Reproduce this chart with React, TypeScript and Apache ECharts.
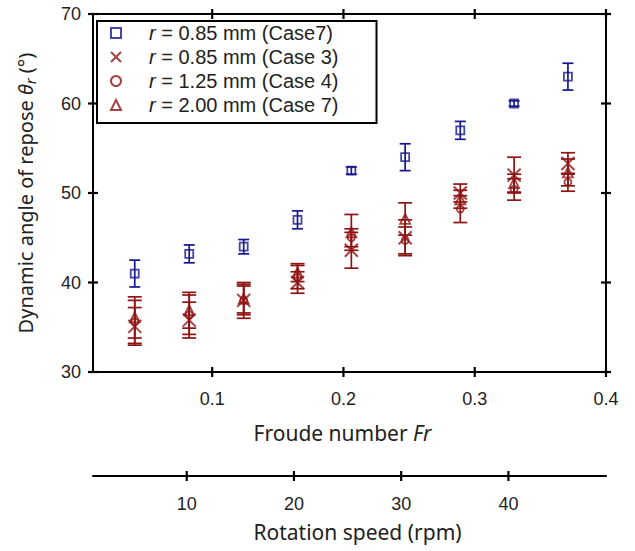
import React, { useEffect, useRef } from 'react';
import * as echarts from 'echarts';

// Froude numbers of the measurement columns
const froude = [0.041, 0.0825, 0.124, 0.165, 0.206, 0.247, 0.289, 0.33, 0.371];

// r = 0.85 mm (Case7)
const smallCase7 = [41.0, 43.2, 44.0, 47.0, 52.5, 54.0, 57.0, 60.0, 63.0];
const smallCase7Err = [1.5, 1.0, 0.8, 1.0, 0.4, 1.5, 1.0, 0.3, 1.5];
// r = 0.85 mm (Case 3)
const case3 = [35.1, 35.8, 38.0, 40.0, 43.6, 45.0, 50.0, 52.0, 53.3];
const case3Err = [2.1, 2.0, 2.0, 1.2, 2.0, 2.0, 1.0, 2.0, 1.2];
// r = 1.25 mm (Case 4)
const case4 = [35.6, 36.4, 38.0, 40.6, 45.0, 44.7, 48.2, 50.4, 51.2];
const case4Err = [2.4, 2.2, 1.6, 1.3, 1.0, 1.5, 1.5, 1.2, 1.0];
// r = 2.00 mm (Case 7)
const largeCase7 = [36.1, 36.9, 38.2, 41.1, 45.6, 47.1, 49.3, 51.1, 52.3];
const largeCase7Err = [2.3, 2.0, 1.6, 1.0, 2.0, 1.8, 1.0, 1.0, 1.5];

const froudeRange = [0.0092, 0.4];
const angleRange = [30, 70];
const rpmRange = [1.26, 49.1];
const froudeTicks = [0.1, 0.2, 0.3, 0.4];
const angleTicks = [30, 40, 50, 60, 70];
const rpmTicks = [10, 20, 30, 40];
const seriesNames = [
  'r = 0.85 mm (Case7)',
  'r = 0.85 mm (Case 3)',
  'r = 1.25 mm (Case 4)',
  'r = 2.00 mm (Case 7)',
];

const BLUE = '#16168e';
const RED = '#8e1414';
const AX = '#000';
const NUM_FONT = '"Liberation Sans", Arial, sans-serif';
const NAME_FONT = '"Noto Sans", "Open Sans", sans-serif';
const RPM_OFFSET = 104;
const TICK = 5;

function errorBars(name: string, values: number[], errs: number[], color: string, capW: number) {
  return {
    type: 'custom',
    name,
    silent: true,
    z: 2,
    data: froude.map((f, i) => [f, values[i] - errs[i], values[i] + errs[i]]),
    encode: { x: 0, y: [1, 2] },
    renderItem: (params: any, api: any) => {
      const lo = api.coord([api.value(0), api.value(1)]);
      const hi = api.coord([api.value(0), api.value(2)]);
      const h = capW / 2;
      const style = { stroke: color, lineWidth: 1.7 };
      return {
        type: 'group',
        children: [
          { type: 'line', shape: { x1: lo[0], y1: lo[1], x2: hi[0], y2: hi[1] }, style },
          { type: 'line', shape: { x1: lo[0] - h, y1: lo[1], x2: lo[0] + h, y2: lo[1] }, style },
          { type: 'line', shape: { x1: hi[0] - h, y1: hi[1], x2: hi[0] + h, y2: hi[1] }, style },
        ],
      };
    },
  };
}

// crossing tick marks: a short line through each tick value on an edge
function tickSeries(name: string, data: number[][], dx: number, dy: number, extra: any = {}) {
  return {
    type: 'custom',
    name,
    silent: true,
    z: 4,
    data,
    encode: { x: 0, y: 1 },
    renderItem: (params: any, api: any) => {
      const p = api.coord([api.value(0), api.value(1)]);
      const oy = extra.oy || 0;
      return {
        type: 'line',
        shape: { x1: p[0] - dx, y1: p[1] + oy - dy, x2: p[0] + dx, y2: p[1] + oy + dy },
        style: { stroke: AX, lineWidth: 2.2 },
      };
    },
    ...(extra.axes || {}),
  };
}

function scatter(name: string, values: number[], color: string, symbol: string, size: number, bw = 1.8) {
  return {
    type: 'scatter',
    name,
    z: 3,
    symbol,
    symbolSize: size,
    data: froude.map((f, i) => [f, values[i]]),
    itemStyle: { color: 'rgba(255,255,255,0)', borderColor: color, borderWidth: bw },
  };
}

const axisLine = () => ({ show: true, onZero: false, lineStyle: { color: AX, width: 2 } });

export default function App() {
  const ref = useRef<HTMLDivElement>(null);
  useEffect(() => {
    if (!ref.current) return;
    const chart = echarts.init(ref.current, null, { renderer: 'svg' });
    const nameStyle = (size: number, padding: number[]) => ({
      fontFamily: NAME_FONT,
      fontSize: size,
      color: '#222',
      padding,
      rich: {
        i: { fontFamily: NAME_FONT, fontSize: size, fontStyle: 'italic', color: '#222' },
        s: { fontFamily: NAME_FONT, fontSize: 15, fontStyle: 'italic', color: '#222', padding: [8, 0, 0, 0] },
      },
    });
    chart.setOption({
      animation: false,
      backgroundColor: '#fff',
      grid: { left: 93, right: 29, top: 14, bottom: 179, containLabel: false },
      legend: {
        show: true,
        data: seriesNames,
        orient: 'vertical',
        left: 97,
        top: 21,
        padding: [0, 38, 6, 13],
        itemWidth: 10,
        itemHeight: 10,
        itemGap: 0,
        symbolKeepAspect: true,
        backgroundColor: '#fff',
        borderColor: '#000',
        borderWidth: 2,
        borderRadius: 0,
        formatter: (name: string) => name.replace(/^r/, '{i|r}'),
        textStyle: {
          fontFamily: NUM_FONT,
          fontSize: 20,
          color: '#222',
          lineHeight: 24,
          padding: [0, 0, 0, 23],
          rich: {
            i: { fontFamily: NUM_FONT, fontSize: 20, fontStyle: 'italic', color: '#222', lineHeight: 24 },
          },
        },
      },
      xAxis: [
        {
          type: 'value',
          position: 'bottom',
          min: froudeRange[0],
          max: froudeRange[1],
          axisLine: axisLine(),
          splitLine: { show: false },
          axisTick: { show: false },
          axisLabel: {
            show: true,
            customValues: froudeTicks,
            formatter: (v: number) => v.toFixed(1),
            fontFamily: NUM_FONT,
            fontSize: 18,
            color: '#222',
            margin: 18,
          },
          name: 'Froude number {i|Fr}',
          nameLocation: 'middle',
          nameGap: 50,
          nameTextStyle: nameStyle(21, [0, 14, 0, 0]),
        },
        {
          type: 'value',
          position: 'top',
          min: froudeRange[0],
          max: froudeRange[1],
          axisLine: axisLine(),
          splitLine: { show: false },
          axisTick: { show: false },
          axisLabel: { show: false },
        },
        {
          type: 'value',
          position: 'bottom',
          offset: RPM_OFFSET,
          min: rpmRange[0],
          max: rpmRange[1],
          axisLine: axisLine(),
          splitLine: { show: false },
          axisTick: { show: false },
          axisLabel: {
            show: true,
            customValues: rpmTicks,
            formatter: (v: number) => String(v),
            fontFamily: NUM_FONT,
            fontSize: 18,
            color: '#222',
            margin: 19,
          },
          name: 'Rotation speed (rpm)',
          nameLocation: 'middle',
          nameGap: 45,
          nameTextStyle: nameStyle(21, [0, 0, 0, 16]),
        },
      ],
      yAxis: [
        {
          type: 'value',
          position: 'left',
          min: angleRange[0],
          max: angleRange[1],
          interval: 10,
          axisLine: axisLine(),
          splitLine: { show: false },
          axisTick: { show: false },
          axisLabel: { show: true, fontFamily: NUM_FONT, fontSize: 18, color: '#222', margin: 12 },
          name: 'Dynamic angle of repose {i|θ}{s|r} (°)',
          nameLocation: 'middle',
          nameRotate: 90,
          nameGap: 56,
          nameTextStyle: nameStyle(20, [0, 0, 0, 0]),
        },
        {
          type: 'value',
          position: 'right',
          min: angleRange[0],
          max: angleRange[1],
          interval: 10,
          axisLine: axisLine(),
          splitLine: { show: false },
          axisTick: { show: false },
          axisLabel: { show: false },
        },
      ],
      series: [
        errorBars('err-a', smallCase7, smallCase7Err, BLUE, 11),
        errorBars('err-b', case3, case3Err, RED, 14),
        errorBars('err-c', case4, case4Err, RED, 14),
        errorBars('err-d', largeCase7, largeCase7Err, RED, 14),
        scatter(seriesNames[0], smallCase7, BLUE, 'rect', 8),
        scatter(seriesNames[1], case3, RED, 'path://M0,0L10,10M10,0L0,10', 13, 2),
        scatter(seriesNames[2], case4, RED, 'circle', 7),
        scatter(seriesNames[3], largeCase7, RED, 'triangle', 10),
        tickSeries('tick-bottom', froudeTicks.map((v) => [v, angleRange[0]]), 0, TICK),
        tickSeries('tick-top', froudeTicks.map((v) => [v, angleRange[1]]), 0, TICK),
        tickSeries('tick-left', angleTicks.map((v) => [froudeRange[0], v]), TICK, 0),
        tickSeries('tick-right', angleTicks.map((v) => [froudeRange[1], v]), TICK, 0),
        tickSeries('tick-rpm', rpmTicks.map((v) => [v, angleRange[0]]), 0, TICK, {
          oy: RPM_OFFSET,
          axes: { xAxisIndex: 2, yAxisIndex: 0 },
        }),
      ],
    });
    return () => chart.dispose();
  }, []);
  return <div ref={ref} style={{ position: 'fixed', left: 0, top: 0, width: 635, height: 551 }} />;
}
